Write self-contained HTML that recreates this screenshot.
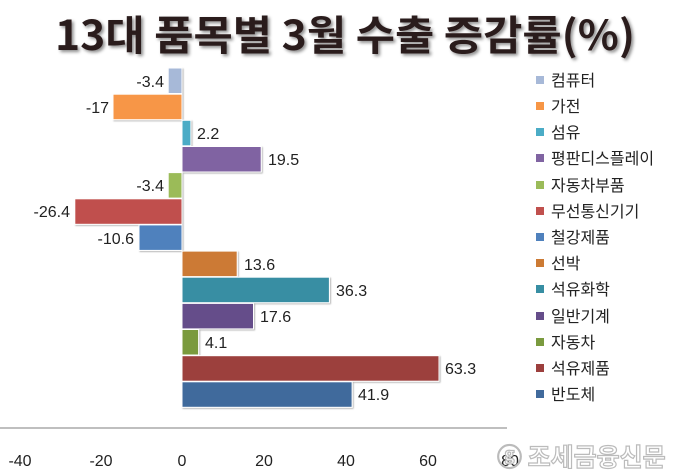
<!DOCTYPE html>
<html><head><meta charset="utf-8"><style>
body{margin:0;background:#fff;}
svg{display:block;font-family:"Liberation Sans","Noto Sans CJK KR",sans-serif;}
</style></head><body>
<svg width="680" height="474" viewBox="0 0 680 474">
<defs><filter id="sh" x="-5%" y="-5%" width="110%" height="120%"><feDropShadow dx="2" dy="2" stdDeviation="1.5" flood-color="#000" flood-opacity="0.45"/></filter>
<filter id="bs"><feDropShadow dx="1" dy="1" stdDeviation="0.8" flood-color="#000" flood-opacity="0.3"/></filter></defs>
<text x="345" y="50" text-anchor="middle" font-size="41" font-weight="bold" fill="#2a1a1a" filter="url(#sh)" font-family="'Noto Sans CJK KR',sans-serif" textLength="580" lengthAdjust="spacingAndGlyphs">13대 품목별 3월 수출 증감률(%)</text>
<g filter="url(#bs)" stroke="#fff" stroke-width="1">
<rect x="168.2" y="68" width="13.8" height="25.5" fill="#a7b9d8"/>
<rect x="113" y="94.2" width="69" height="25.5" fill="#f79646"/>
<rect x="182" y="120.3" width="8.9" height="25.5" fill="#4bacc6"/>
<rect x="182" y="146.5" width="79.2" height="25.5" fill="#8064a2"/>
<rect x="168.2" y="172.6" width="13.8" height="25.5" fill="#9bbb59"/>
<rect x="74.8" y="198.8" width="107.2" height="25.5" fill="#c0504d"/>
<rect x="139" y="224.9" width="43" height="25.5" fill="#4f81bd"/>
<rect x="182" y="251.1" width="55.2" height="25.5" fill="#cc7a34"/>
<rect x="182" y="277.2" width="147.4" height="25.5" fill="#378ea3"/>
<rect x="182" y="303.4" width="71.5" height="25.5" fill="#654d8a"/>
<rect x="182" y="329.5" width="16.6" height="25.5" fill="#7a9a3e"/>
<rect x="182" y="355.7" width="257" height="25.5" fill="#9c3f3d"/>
<rect x="182" y="381.8" width="170.1" height="25.5" fill="#416a9c"/>
</g>
<g font-size="16" fill="#222">
<text x="164" y="87" text-anchor="end">-3.4</text>
<text x="109" y="113" text-anchor="end">-17</text>
<text x="197" y="139">2.2</text>
<text x="268" y="165">19.5</text>
<text x="164" y="191" text-anchor="end">-3.4</text>
<text x="70" y="217" text-anchor="end">-26.4</text>
<text x="134" y="244" text-anchor="end">-10.6</text>
<text x="244" y="270">13.6</text>
<text x="336" y="296">36.3</text>
<text x="260" y="322">17.6</text>
<text x="205" y="348">4.1</text>
<text x="445" y="374">63.3</text>
<text x="358" y="400">41.9</text>
</g>
<line x1="0" y1="428" x2="507" y2="428" stroke="#aaa" stroke-width="1.5"/>
<g font-size="16" fill="#222" text-anchor="middle">
<text x="20" y="466">-40</text><text x="101" y="466">-20</text><text x="182" y="466">0</text>
<text x="264" y="466">20</text><text x="346" y="466">40</text><text x="428" y="466">60</text><text x="510" y="466">80</text>
</g>
<text x="497" y="466" font-size="25" font-weight="bold" fill="#fff" stroke="#bbb" stroke-width="1.2" font-family="'Noto Sans CJK KR',sans-serif">ⓖ 조세금융신문</text>
<g font-size="16" fill="#222" font-family="'Noto Sans CJK KR',sans-serif">
<rect x="536" y="76" width="8" height="8" fill="#a7b9d8"/><text x="551" y="86">컴퓨터</text>
<rect x="536" y="102" width="8" height="8" fill="#f79646"/><text x="551" y="112">가전</text>
<rect x="536" y="128" width="8" height="8" fill="#4bacc6"/><text x="551" y="138">섬유</text>
<rect x="536" y="154" width="8" height="8" fill="#8064a2"/><text x="551" y="164">평판디스플레이</text>
<rect x="536" y="181" width="8" height="8" fill="#9bbb59"/><text x="551" y="191">자동차부품</text>
<rect x="536" y="207" width="8" height="8" fill="#c0504d"/><text x="551" y="217">무선통신기기</text>
<rect x="536" y="233" width="8" height="8" fill="#4f81bd"/><text x="551" y="243">철강제품</text>
<rect x="536" y="259" width="8" height="8" fill="#cc7a34"/><text x="551" y="269">선박</text>
<rect x="536" y="285" width="8" height="8" fill="#378ea3"/><text x="551" y="295">석유화학</text>
<rect x="536" y="312" width="8" height="8" fill="#654d8a"/><text x="551" y="322">일반기계</text>
<rect x="536" y="338" width="8" height="8" fill="#7a9a3e"/><text x="551" y="348">자동차</text>
<rect x="536" y="364" width="8" height="8" fill="#9c3f3d"/><text x="551" y="374">석유제품</text>
<rect x="536" y="390" width="8" height="8" fill="#416a9c"/><text x="551" y="400">반도체</text>
</g>
</svg>
</body></html>
